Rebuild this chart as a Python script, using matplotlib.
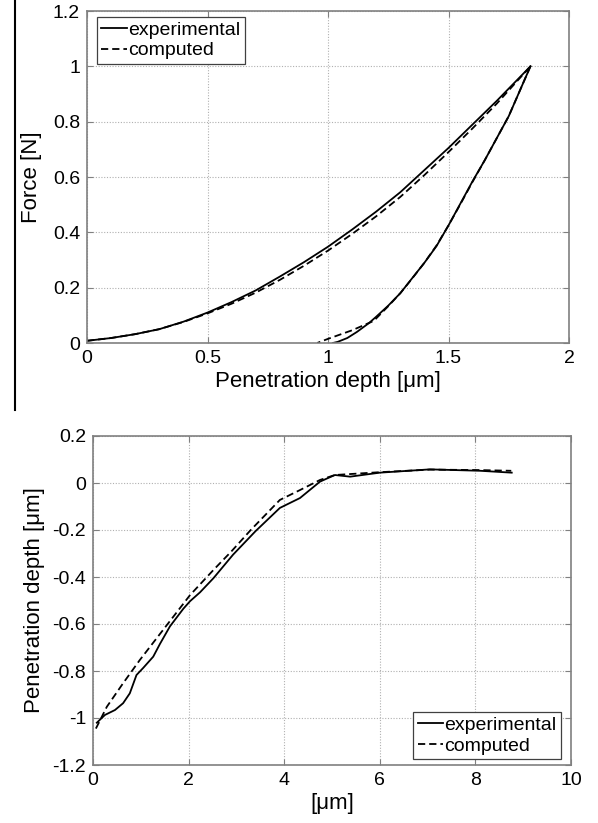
import matplotlib
matplotlib.use("Agg")
import matplotlib.pyplot as plt
from matplotlib.lines import Line2D

plt.rcParams['font.family'] = ['Liberation Sans', 'DejaVu Sans']

# ---- top chart: force vs penetration depth ----
load_exp_x = [0.0, 0.1, 0.2, 0.3, 0.4, 0.5, 0.6, 0.7, 0.8, 0.9, 1.0, 1.1, 1.2, 1.3, 1.4, 1.5, 1.6, 1.7, 1.84]
load_exp_y = [0.008, 0.018, 0.032, 0.05, 0.077, 0.11, 0.148, 0.19, 0.24, 0.292, 0.348, 0.41, 0.475, 0.545, 0.625, 0.705, 0.79, 0.875, 1.0]
unload_exp_x = [1.84, 1.75, 1.7, 1.65, 1.6, 1.55, 1.5, 1.45, 1.4, 1.35, 1.3, 1.25, 1.2, 1.17, 1.12, 1.08, 1.04, 1.02]
unload_exp_y = [1.0, 0.82, 0.74, 0.66, 0.585, 0.505, 0.425, 0.35, 0.29, 0.235, 0.18, 0.135, 0.095, 0.072, 0.04, 0.018, 0.004, 0.0]

load_cmp_x = [0.0, 0.1, 0.2, 0.3, 0.4, 0.5, 0.6, 0.7, 0.8, 0.9, 1.0, 1.1, 1.2, 1.3, 1.4, 1.5, 1.6, 1.7, 1.84]
load_cmp_y = [0.008, 0.018, 0.032, 0.05, 0.076, 0.107, 0.142, 0.182, 0.228, 0.279, 0.334, 0.394, 0.458, 0.528, 0.607, 0.69, 0.776, 0.865, 1.0]
unload_cmp_x = [1.84, 1.75, 1.7, 1.65, 1.6, 1.55, 1.5, 1.45, 1.4, 1.35, 1.3, 1.25, 1.19, 1.1, 1.0, 0.955]
unload_cmp_y = [1.0, 0.82, 0.74, 0.66, 0.583, 0.503, 0.425, 0.352, 0.29, 0.234, 0.18, 0.133, 0.08, 0.046, 0.015, 0.0]

# ---- bottom chart ----
prof_exp_x = [0.08, 0.25, 0.46, 0.63, 0.77, 0.91, 1.05, 1.26, 1.40, 1.61, 1.89, 2.03, 2.24, 2.52, 2.93, 3.40, 3.91, 4.33, 4.75, 5.06, 5.38, 6.0, 7.05, 8.1, 8.76]
prof_exp_y = [-1.02, -0.987, -0.966, -0.937, -0.895, -0.817, -0.787, -0.739, -0.685, -0.61, -0.535, -0.503, -0.465, -0.405, -0.305, -0.205, -0.106, -0.064, 0.006, 0.034, 0.027, 0.044, 0.058, 0.052, 0.044]
prof_cmp_x = [0.06, 0.29, 0.63, 0.98, 1.33, 1.68, 2.03, 2.52, 2.9, 3.3, 3.91, 4.33, 4.75, 5.06, 6.0, 7.05, 8.1, 8.75]
prof_cmp_y = [-1.045, -0.952, -0.852, -0.753, -0.661, -0.569, -0.477, -0.37, -0.29, -0.20, -0.072, -0.03, 0.013, 0.034, 0.046, 0.057, 0.055, 0.052]

labels = ['experimental', 'computed']
top_xticks = [0, 0.5, 1, 1.5, 2]
top_xticklabels = ['0', '0.5', '1', '1.5', '2']
top_yticks = [0, 0.2, 0.4, 0.6, 0.8, 1.0, 1.2]
top_yticklabels = ['0', '0.2', '0.4', '0.6', '0.8', '1', '1.2']
bot_xticks = [0, 2, 4, 6, 8, 10]
bot_xticklabels = ['0', '2', '4', '6', '8', '10']
bot_yticks = [-1.2, -1.0, -0.8, -0.6, -0.4, -0.2, 0, 0.2]
bot_yticklabels = ['-1.2', '-1', '-0.8', '-0.6', '-0.4', '-0.2', '0', '0.2']

W, H = 598, 823
fig = plt.figure(figsize=(W / 100, H / 100), dpi=100)

ax1 = fig.add_axes([87 / W, 1 - 343 / H, (569 - 87) / W, (343 - 11) / H])
ax2 = fig.add_axes([93 / W, 1 - 765 / H, (571 - 93) / W, (765 - 436) / H])

spine_c = '#808080'
lw = 1.3
dash = (0, (4, 2.2))
fs = 14
lfs = 16


def style(ax):
    for s in ax.spines.values():
        s.set_color(spine_c)
        s.set_linewidth(1.2)
    ax.tick_params(direction='in', length=4, width=0.8, color=spine_c,
                   top=True, right=True, labelsize=fs, labelcolor='black', pad=5)
    ax.grid(True, linestyle=(0, (1, 1.5)), color='#b0b0b0', linewidth=0.8)
    ax.set_axisbelow(True)


def legend(ax, handles, loc, anchor):
    leg = ax.legend(handles=handles, loc=loc, bbox_to_anchor=anchor,
                    borderaxespad=0, fancybox=False, edgecolor='#404040', framealpha=1,
                    fontsize=fs, handlelength=1.3, handletextpad=0.08, borderpad=0.22,
                    labelspacing=0.15)
    leg.get_frame().set_linewidth(0.9)
    return leg


style(ax1)
h1, = ax1.plot(load_exp_x, load_exp_y, color='black', lw=lw, label=labels[0])
ax1.plot(unload_exp_x, unload_exp_y, color='black', lw=lw)
h2, = ax1.plot(load_cmp_x, load_cmp_y, color='black', lw=lw, linestyle=dash, label=labels[1])
ax1.plot(unload_cmp_x, unload_cmp_y, color='black', lw=lw, linestyle=dash)
ax1.set_xlim(0, 2)
ax1.set_ylim(0, 1.2)
ax1.set_xticks(top_xticks)
ax1.set_xticklabels(top_xticklabels)
ax1.set_yticks(top_yticks)
ax1.set_yticklabels(top_yticklabels)
ax1.set_xlabel('Penetration depth [μm]', fontsize=lfs, labelpad=3)
ax1.set_ylabel('Force [N]', fontsize=lfs, labelpad=8)
legend(ax1, [h1, h2], 'upper left', (10 / 482, 1 - 6 / 332))

style(ax2)
g1, = ax2.plot(prof_exp_x, prof_exp_y, color='black', lw=lw, label=labels[0])
g2, = ax2.plot(prof_cmp_x, prof_cmp_y, color='black', lw=lw, linestyle=dash, label=labels[1])
ax2.set_xlim(0, 10)
ax2.set_ylim(-1.2, 0.2)
ax2.set_xticks(bot_xticks)
ax2.set_xticklabels(bot_xticklabels)
ax2.set_yticks(bot_yticks)
ax2.set_yticklabels(bot_yticklabels)
ax2.set_xlabel('[μm]', fontsize=lfs, labelpad=3)
ax2.set_ylabel('Penetration depth [μm]', fontsize=lfs, labelpad=5)
legend(ax2, [g1, g2], 'lower right', ((561 - 93) / 478, 6 / 329))

# vertical rule at the left edge of the upper panel
fig.add_artist(Line2D([15 / W, 15 / W], [1.0, 1 - 410 / H], transform=fig.transFigure,
                      color='black', lw=1.5))

fig.savefig('out.png', dpi=100, facecolor='white')
